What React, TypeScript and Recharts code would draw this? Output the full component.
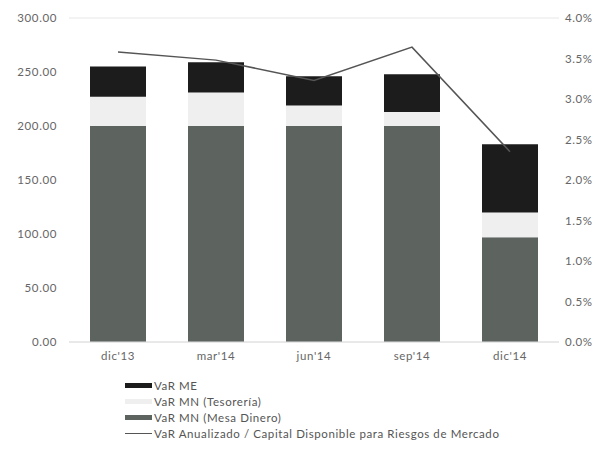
import { ComposedChart, Bar, Line, XAxis, YAxis, CartesianGrid } from 'recharts';

const periods = ["dic'13", "mar'14", "jun'14", "sep'14", "dic'14"];
const varMesaDinero = [200, 200, 200, 200, 97];
const varTesoreria = [27, 31, 19, 13, 23];
const varME = [28, 28, 27, 35, 63];
const varAnualizado = [3.58, 3.48, 3.23, 3.64, 2.35];

const leftTicks = [0, 50, 100, 150, 200, 250, 300];
const rightTicks = [0, 0.5, 1, 1.5, 2, 2.5, 3, 3.5, 4];

const data = periods.map((p, i) => ({
  name: p,
  mesa: varMesaDinero[i],
  tesoreria: varTesoreria[i],
  me: varME[i],
  ratio: varAnualizado[i],
}));

const legendItems = [
  { label: 'VaR ME', color: '#1c1c1c', type: 'bar' },
  { label: 'VaR MN (Tesorería)', color: '#efefef', type: 'bar' },
  { label: 'VaR MN (Mesa Dinero)', color: '#5d6460', type: 'bar' },
  { label: 'VaR Anualizado / Capital Disponible para Riesgos de Mercado', color: '#555555', type: 'line' },
];

const font = 'Lato, "Open Sans", sans-serif';
const tick = { fontSize: 11.5, fill: '#666', fontFamily: font, letterSpacing: 0.6 };

export default function App() {
  return (
    <div style={{ position: 'absolute', left: 0, top: 0, width: 607, height: 449, background: '#fff' }}>
      <ComposedChart width={607} height={375} data={data} margin={{ top: 18, right: 0, bottom: 0, left: 0 }}>
        <CartesianGrid vertical={false} stroke="#e6e6e6" />
        <XAxis dataKey="name" height={33} tick={tick} tickLine={false} axisLine={{ stroke: '#dedede' }} tickMargin={4} />
        <YAxis
          yAxisId="left"
          width={69}
          domain={[0, 300]}
          ticks={leftTicks}
          tickFormatter={(v: number) => v.toFixed(2)}
          tick={tick}
          tickLine={false}
          axisLine={false}
          tickSize={10}
          tickMargin={2}
        />
        <YAxis
          yAxisId="right"
          orientation="right"
          width={48}
          domain={[0, 4]}
          ticks={rightTicks}
          tickFormatter={(v: number) => `${v.toFixed(1)}%`}
          tick={tick}
          tickLine={false}
          axisLine={false}
          tickSize={4}
          tickMargin={2}
        />
        <Bar yAxisId="left" dataKey="mesa" stackId="a" fill="#5d6460" barSize={56} isAnimationActive={false} />
        <Bar yAxisId="left" dataKey="tesoreria" stackId="a" fill="#efefef" barSize={56} isAnimationActive={false} />
        <Bar yAxisId="left" dataKey="me" stackId="a" fill="#1c1c1c" barSize={56} isAnimationActive={false} />
        <Line yAxisId="right" dataKey="ratio" stroke="#555555" strokeWidth={1.5} dot={false} type="linear" isAnimationActive={false} />
      </ComposedChart>
      <div style={{ position: 'absolute', left: 125, top: 377, fontFamily: font, fontSize: 11.5, letterSpacing: 0.6, color: '#555' }}>
        {legendItems.map((item) => (
          <div key={item.label} style={{ display: 'flex', alignItems: 'center', height: 16 }}>
            {item.type === 'bar' ? (
              <div style={{ width: 27, height: 5, background: item.color, marginRight: 2 }} />
            ) : (
              <div style={{ width: 27, height: 1, background: item.color, marginRight: 2 }} />
            )}
            <span>{item.label}</span>
          </div>
        ))}
      </div>
    </div>
  );
}
